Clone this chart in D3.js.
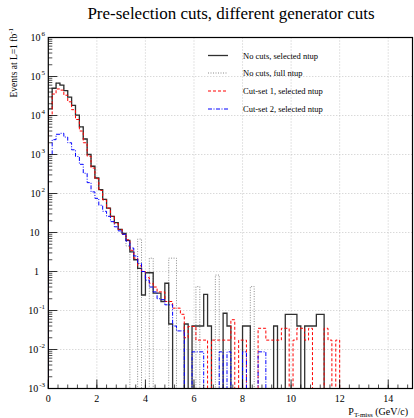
<!DOCTYPE html>
<html><head><meta charset="utf-8">
<script src="https://cdn.jsdelivr.net/npm/d3@7"></script>
<style>body{margin:0;background:#fff}svg{display:block}text{font-family:"Liberation Serif","Times New Roman",serif;fill:#000}</style>
</head><body><svg id="c" width="414" height="418"></svg>
<script>
const title = "Pre-selection cuts, different generator cuts";
const binWidth = 0.16;
const xTicks = [0,2,4,6,8,10,12,14];
const yExponents = [-3,-2,-1,0,1,2,3,4,5,6];
const legendLabels = ["No cuts, selected ntup","No cuts, full ntup","Cut-set 1, selected ntup","Cut-set 2, selected ntup"];
// bin contents (events), bins of 0.16 GeV starting at 0
const noCutsSelected = [14800,50000,67600,60300,43600,29500,18200,10200,5100,2500,1000,500,250,126,71,42,26,18,12,9.5,6.3,3.2,2.0,1.2,0.25,0.93,0.93,0.28,0.28,0.17,0.5,0.045,0,0,0,0.045,0,0.04,0.04,0.04,0.26,0.04,0,0,0,0.085,0.04,0,0,0,0.04,0.04,0,0,0,0,0,0,0.04,0,0,0.08,0.08,0.08,0.04,0,0.04,0.04,0.04,0.08,0.08,0,0,0,0];
const noCutsFull = [14800,50000,67600,60300,43600,29500,18200,10200,5100,2500,1000,500,250,126,71,42,26,18,12,9.5,4.5,0,0,6.8,0,0,2.2,0,0,0,0,2.2,2.2,0,0,0,0,0,0.41,0,0,0,0,0.81,0,0,0,0,0,0,0,0,0.41,0,0,0,0,0,0,0,0,0,0,0,0,0,0,0,0,0,0,0,0,0,0];
const cutSet1 = [10000,35500,47900,44700,33100,22400,14100,7900,4000,2000,900,450,240,120,68,42,26,17,12,9,6.5,3.5,2.2,1.4,1.0,0.7,0.5,0.4,0.3,0.3,0.17,0.17,0.115,0.115,0.08,0.02,0.039,0.039,0.0174,0.0174,0.0174,0,0.0174,0.0174,0.0174,0.0174,0.0174,0.058,0,0.0174,0.0174,0,0,0,0.035,0.035,0.0174,0.0174,0.0174,0.0174,0.035,0.035,0,0.0174,0.035,0.035,0.0174,0.035,0,0,0,0.035,0.0174,0,0.0174];
const cutSet2 = [1000,2400,3300,3500,2800,2000,1320,890,560,330,190,110,75,50,35,26,19,14,11,9,6,4,2.5,1.6,1.0,0.6,0.4,0.3,0.2,0.19,0.14,0.14,0.04,0.03,0.03,0,0,0.0087,0.0087,0.0087,0,0,0,0,0.0087,0,0.0087,0,0,0,0.0087,0,0,0,0.0087,0.0087,0,0,0,0,0,0,0,0,0,0,0,0,0,0,0,0,0,0,0];

const svg = d3.select("#c");
const L = 48.3, R = 412.5, T = 37.5, B = 388.5;
const x = d3.scaleLinear().domain([0,15]).range([L,R]);
const y = d3.scaleLog().domain([1e-3,1e6]).range([B,T]);

const g = svg.append("g");
g.selectAll("line.gx").data(xTicks.filter(d=>d>0)).join("line")
  .attr("x1",d=>x(d)).attr("x2",d=>x(d)).attr("y1",T).attr("y2",B)
  .attr("stroke","#bbb").attr("stroke-width",0.8).attr("stroke-dasharray","1,2");
g.selectAll("line.gy").data(yExponents.slice(1,-1)).join("line")
  .attr("x1",L).attr("x2",R).attr("y1",d=>y(Math.pow(10,d))).attr("y2",d=>y(Math.pow(10,d)))
  .attr("stroke","#bbb").attr("stroke-width",0.8).attr("stroke-dasharray","1,2");

svg.append("clipPath").attr("id","clip").append("rect").attr("x",L).attr("y",T).attr("width",R-L).attr("height",B-T);

function histPath(vals){
  let p = "";
  vals.forEach((v,i)=>{
    const yy = v>0 ? y(v) : B+2;
    const x0 = x(i*binWidth), x1 = x((i+1)*binWidth);
    p += (i===0 ? "M"+x0+","+(B+2)+"L"+x0+","+yy : "L"+x0+","+yy) + "L"+x1+","+yy;
  });
  p += "L"+x(vals.length*binWidth)+","+(B+2);
  return p;
}
const series = [
  {vals:noCutsFull, color:"#8a8a8a", dash:"1,1.5", w:1},
  {vals:noCutsSelected, color:"#303030", dash:null, w:1.3},
  {vals:cutSet1, color:"#f00", dash:"3,2", w:1},
  {vals:cutSet2, color:"#00f", dash:"4,1.5,1,1.5", w:1}
];
const hg = svg.append("g").attr("clip-path","url(#clip)");
series.forEach(s=>{
  hg.append("path").attr("d",histPath(s.vals)).attr("fill","none")
    .attr("stroke",s.color).attr("stroke-width",s.w).attr("stroke-dasharray",s.dash);
});

svg.append("rect").attr("x",L).attr("y",T).attr("width",R-L).attr("height",B-T)
  .attr("fill","none").attr("stroke","#000").attr("stroke-width",1.2);

const yt = svg.append("g");
yExponents.forEach(e=>{
  const v = Math.pow(10,e);
  if (e<6) for(let k=2;k<=9;k++){ const yy=y(k*v); yt.append("line").attr("x1",L).attr("x2",L+4).attr("y1",yy).attr("y2",yy).attr("stroke","#000").attr("stroke-width",0.7); }
  const yy=y(v);
  yt.append("line").attr("x1",L).attr("x2",L+9).attr("y1",yy).attr("y2",yy).attr("stroke","#000").attr("stroke-width",0.8);
  const t = yt.append("text").attr("y",yy+3.5).attr("font-size",10);
  if (e===0){ t.attr("x",39).attr("text-anchor","end").text("1"); }
  else if (e===1){ t.attr("x",39.5).attr("text-anchor","end").text("10"); }
  else { t.attr("x",45).attr("text-anchor","end"); t.append("tspan").text("10");
    t.append("tspan").attr("dy",-5).attr("dx",1).attr("font-size",7).text(String(e)); }
});
const xt = svg.append("g");
for (let v=0; v<=15.001; v+=0.4){ const xx=x(v); xt.append("line").attr("x1",xx).attr("x2",xx).attr("y1",B).attr("y2",B-4).attr("stroke","#000").attr("stroke-width",0.7); }
xTicks.forEach(v=>{
  const xx=x(v);
  xt.append("line").attr("x1",xx).attr("x2",xx).attr("y1",B).attr("y2",B-9).attr("stroke","#000").attr("stroke-width",0.8);
  xt.append("text").attr("x",xx).attr("y",401.5).attr("text-anchor","middle").attr("font-size",10).text(v);
});

svg.append("text").attr("x",231).attr("y",19).attr("text-anchor","middle").attr("font-size",17).text(title);
const xtT = svg.append("text").attr("x",408).attr("y",415).attr("text-anchor","end").attr("font-size",10);
xtT.append("tspan").text("P");
xtT.append("tspan").attr("font-size",7).attr("dy",2).text("T-miss");
xtT.append("tspan").attr("dy",-2).text(" (GeV/c)");
const ytT = svg.append("text").attr("transform","translate(17,28) rotate(-90)").attr("text-anchor","end").attr("font-size",9.5);
ytT.append("tspan").text("Events at L=1 fb");
ytT.append("tspan").attr("font-size",7).attr("dy",-4).text("-1");

const leg = svg.append("g");
const legY = [55.5,73,91,109];
legendLabels.forEach((lab,i)=>{
  const s = [series[1],series[0],series[2],series[3]][i];
  leg.append("line").attr("x1",208).attr("x2",228).attr("y1",legY[i]).attr("y2",legY[i])
    .attr("stroke",s.color).attr("stroke-width",s.w).attr("stroke-dasharray",s.dash);
  leg.append("text").attr("x",243).attr("y",legY[i]+3).attr("font-size",8.5).text(lab);
});
</script></body></html>
